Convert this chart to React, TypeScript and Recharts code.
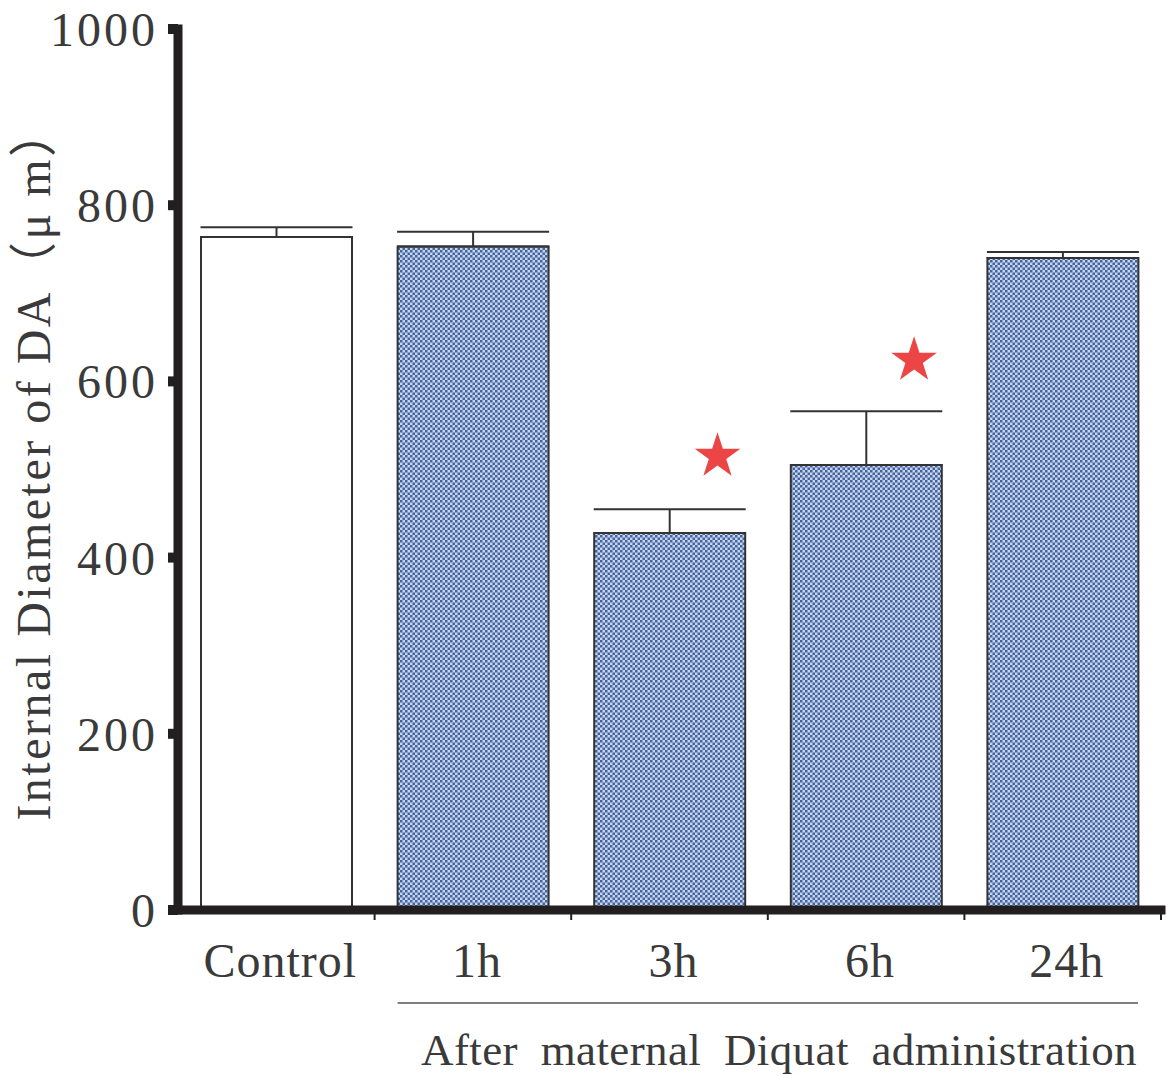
import React from "react"
import { Bar, Cell, ComposedChart, ErrorBar, Scatter, XAxis, YAxis } from "recharts"

// values (µm)
const groups = ["Control", "1h", "3h", "6h", "24h"]
const means = [764, 753, 428, 505, 740]
const sem = [11, 17, 27, 61, 7]
const starAt = [null, null, 515, 624, null]
const yTicks = [0, 200, 400, 600, 800, 1000]

const data = groups.map((g, i) => ({
  group: g,
  value: means[i],
  err: [0, sem[i]],
  star: starAt[i],
}))

const FONT = "'Liberation Serif', 'Noto Sans CJK JP', serif"
const INK = "#231f20"
const TEXT = "#3a3a3a"
const GAP = 23

function StarMark(props: any) {
  const { cx, cy, payload } = props
  if (payload?.star == null || !isFinite(cx) || !isFinite(cy)) return null
  const R = 24
  const r = R * 0.382
  const x0 = cx + 48
  const pts: string[] = []
  for (let k = 0; k < 10; k++) {
    const rad = k % 2 === 0 ? R : r
    const a = -Math.PI / 2 + (k * Math.PI) / 5
    pts.push(`${x0 + rad * Math.cos(a)},${cy + rad * Math.sin(a)}`)
  }
  return <polygon points={pts.join(" ")} fill="#ec4545" />
}

function GroupTick(props: any) {
  const { x, y, payload } = props
  const half = payload?.offset ?? 98.3
  return (
    <g>
      <line x1={x + half} x2={x + half} y1={y} y2={y + 10} stroke={INK} strokeWidth={2} />
      <text
        x={x + 4}
        y={y + 67}
        textAnchor="middle"
        fontFamily={FONT}
        fontSize={48}
        letterSpacing={1}
        fill={TEXT}
      >
        {payload.value}
      </text>
    </g>
  )
}

function BottomNote(props: any) {
  const vb = props.viewBox
  if (!vb) return null
  const band = vb.width / groups.length
  const x1 = vb.x + band + GAP
  const x2 = vb.x + vb.width - GAP
  return (
    <g>
      <line x1={x1} x2={x2} y1={vb.y + 93} y2={vb.y + 93} stroke="#555" strokeWidth={1.5} />
      <text
        x={x2 - 1}
        y={vb.y + 155}
        textAnchor="end"
        fontFamily={FONT}
        fontSize={45}
        letterSpacing={0.4}
        wordSpacing={11}
        fill={TEXT}
      >
        After maternal Diquat administration
      </text>
    </g>
  )
}

function SideLabel(props: any) {
  const vb = props.viewBox
  if (!vb) return null
  const cy = vb.y + vb.height / 2 - 6
  return (
    <text
      x={50}
      y={cy}
      transform={`rotate(-90, 50, ${cy})`}
      textAnchor="middle"
      fontFamily={FONT}
      fontSize={48}
      letterSpacing={2.5}
      fill={TEXT}
    >
      Internal Diameter of DA（μ  m）
    </text>
  )
}

export default function App() {
  return (
    <div style={{ position: "absolute", left: 0, top: 0, width: 1173, height: 1076, background: "#fff" }}>
      <ComposedChart
        width={1173}
        height={1076}
        data={data}
        margin={{ top: 29, right: 12, left: 78, bottom: 106 }}
        barCategoryGap={GAP}
      >
        <defs>
          <pattern id="checker" width="5" height="5" patternUnits="userSpaceOnUse">
            <rect width="5" height="5" fill="#c6d5f0" />
            <rect x="0" y="0" width="2.5" height="2.5" fill="#46649c" />
            <rect x="2.5" y="2.5" width="2.5" height="2.5" fill="#46649c" />
          </pattern>
        </defs>
        <XAxis
          dataKey="group"
          height={60}
          interval={0}
          tickLine={false}
          tickSize={0}
          tickMargin={0}
          axisLine={{ stroke: INK, strokeWidth: 9, strokeLinecap: "square" }}
          tick={<GroupTick />}
          label={{ content: (p: any) => <BottomNote viewBox={p.viewBox} /> }}
        />
        <YAxis
          width={100}
          type="number"
          domain={[0, 1000]}
          ticks={yTicks}
          interval={0}
          tickSize={10}
          tickMargin={10}
          tickLine={{ stroke: INK, strokeWidth: 10 }}
          axisLine={{ stroke: INK, strokeWidth: 9, strokeLinecap: "square" }}
          tick={{ fontFamily: FONT, fontSize: 48, fill: TEXT, letterSpacing: 3 }}
          label={{ content: (p: any) => <SideLabel viewBox={p.viewBox} /> }}
        />
        <Bar dataKey="value" stroke="#333" strokeWidth={2} isAnimationActive={false}>
          {data.map((d, i) => (
            <Cell key={d.group} fill={i === 0 ? "#ffffff" : "url(#checker)"} />
          ))}
          <ErrorBar dataKey="err" direction="y" width={76} stroke="#333" strokeWidth={2} />
        </Bar>
        <Scatter dataKey="star" shape={<StarMark />} isAnimationActive={false} />
      </ComposedChart>
    </div>
  )
}
